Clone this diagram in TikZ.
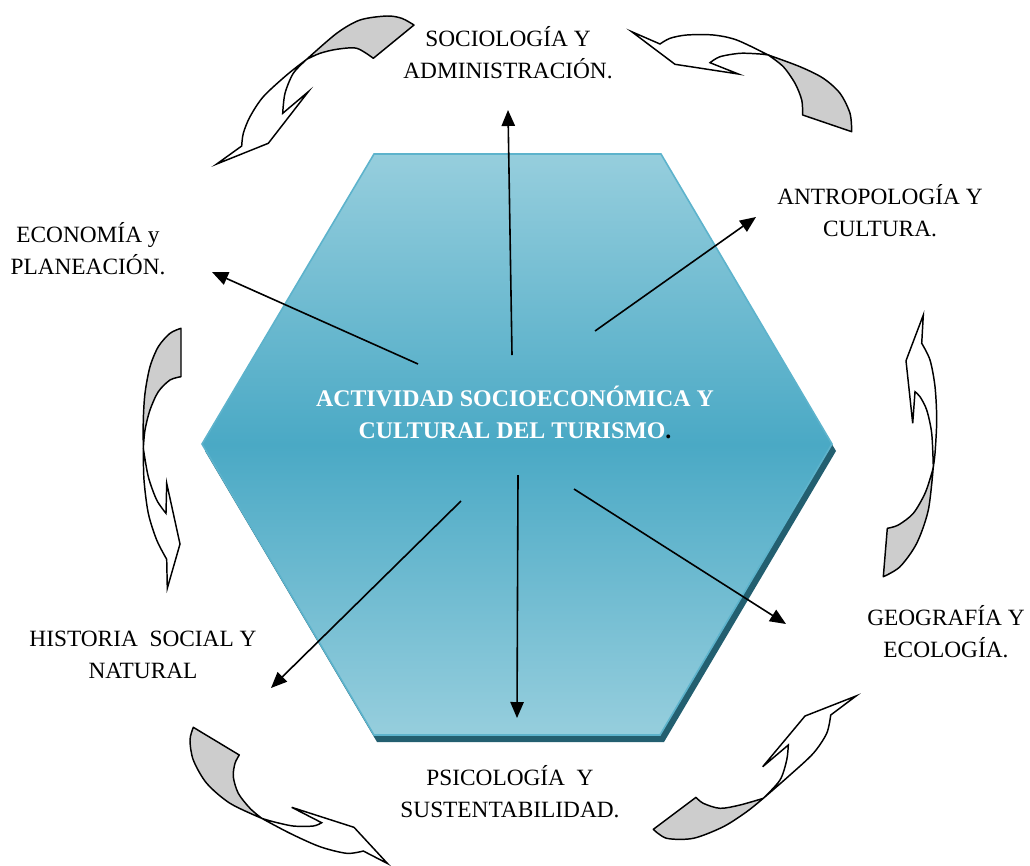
\documentclass[tikz,border=0pt]{standalone}
\usepackage{fontspec}
\setmainfont{Liberation Serif}
\usetikzlibrary{arrows.meta}
\definecolor{hexTop}{HTML}{96CEDD}
\definecolor{hexMid}{HTML}{4AA9C5}
\definecolor{hexEdge}{HTML}{5DB3CC}
\definecolor{hexShadow}{HTML}{235F70}
\definecolor{curlGray}{HTML}{CDCDCD}
\begin{document}
\begin{tikzpicture}[x=0.75pt,y=-0.75pt,
  lbl/.style={inner sep=0pt,align=center,font=\fontsize{17.5}{24}\selectfont},
  link/.style={line width=1.2pt,-{Triangle[length=12pt,width=10pt]}},
  curlback/.style={fill=curlGray,draw=black,line width=1.1pt,line join=round},
  curlfront/.style={fill=white,draw=black,line width=1.1pt,line join=miter}]
  \useasboundingbox (0,0) rectangle (1030,865);
  % hexagon
  \fill[hexShadow] (377,161) -- (664,161) -- (836,451) -- (664,742) -- (377,742) -- (205,451) -- cycle;
  \shade[top color=hexTop,bottom color=hexTop,middle color=hexMid]
    (374,154) -- (661,154) -- (832,444) -- (660,735) -- (374,735) -- (202,444) -- cycle;
  \draw[hexEdge,line width=1.2pt]
    (374,154) -- (661,154) -- (832,444) -- (660,735) -- (374,735) -- (202,444) -- cycle;
  \node[lbl,font=\fontsize{17.9}{24}\selectfont\bfseries,text=white] (core) at (515,412)
    {ACTIVIDAD SOCIOECONÓMICA Y\\CULTURAL DEL TURISMO\textcolor{black}{.}};
  % labels
  \node[lbl] (soc) at (508,53) {SOCIOLOGÍA Y\\ADMINISTRACIÓN.};
  \node[lbl] (antro) at (880,211) {ANTROPOLOGÍA Y\\CULTURA.};
  \node[lbl] (econ) at (88,249) {ECONOMÍA y\\PLANEACIÓN.};
  \node[lbl] (geo) at (946,632) {GEOGRAFÍA Y\\ECOLOGÍA.};
  \node[lbl] (hist) at (143,655) {HISTORIA\ \ SOCIAL Y\\NATURAL};
  \node[lbl] (psic) at (510,792) {PSICOLOGÍA\ \ Y\\SUSTENTABILIDAD.};
  % arrows from the centre
  \coordinate (soc-a) at (512,355);  \coordinate (soc-b) at (508,110);
  \coordinate (antro-a) at (595,331); \coordinate (antro-b) at (756,217);
  \coordinate (econ-a) at (418,364); \coordinate (econ-b) at (212,272);
  \coordinate (geo-a) at (574,489);  \coordinate (geo-b) at (786,624);
  \coordinate (psic-a) at (518,475); \coordinate (psic-b) at (517,718);
  \coordinate (hist-a) at (461,501); \coordinate (hist-b) at (271,688);
  \foreach \t in {soc,antro,econ,geo,psic,hist}
    \draw[link] (\t-a) -- (\t-b);
  % curled arrows
  \filldraw[curlback] plot[smooth] coordinates {(414,25) (401.7,18.3) (386.7,16) (360,20) (336.7,33.3) (306.7,59.3)}
    -- plot[smooth] coordinates {(306.7,59.3) (320,53.3) (336.7,49.3) (356.7,48.3) (373.3,58.3)} -- cycle;
  \filldraw[curlfront] plot[smooth] coordinates {(306.7,59.3) (286.7,75) (263.3,96.7) (250,116.7) (243.3,133.3) (241.7,146)}
    -- (216.7,164) -- (268.3,143.3) -- (308.3,91.7)
    -- plot[smooth] coordinates {(282.7,113.3) (285,93.3) (293.3,73.3) (306.7,59.3)} -- cycle;
  \filldraw[curlback] plot[smooth] coordinates {(851.7,131.7) (850,113.3) (840,93.3) (823.3,78.3) (800,66.7) (768.3,55)}
    -- plot[smooth] coordinates {(768.3,55) (783.3,66.7) (795,83.3) (801.7,100) (802.7,115)} -- cycle;
  \filldraw[curlfront] plot[smooth] coordinates {(768.3,55) (736.7,40) (713.3,35) (686.7,35) (670,38.3) (660,44)}
    -- (631.7,31.7) -- (675,64.3) -- (738.3,74)
    -- plot[smooth] coordinates {(710,62.7) (720,56.7) (740,53.3) (760,54) (768.3,55)} -- cycle;
  \filldraw[curlback] plot[smooth] coordinates {(181,328.3) (170,333.3) (158.3,346.7) (150,366.7) (145,393.3) (143.3,420) (143.3,448.3)}
    -- plot[smooth] coordinates {(143.3,448.3) (145,430) (150,410) (158.3,391.7) (170,380) (181,376.7)} -- cycle;
  \filldraw[curlfront] plot[smooth] coordinates {(143.3,448.3) (144,480) (148.3,513.3) (156.7,540) (166.7,559.3)}
    -- (167.3,588.3) -- (180,544) -- (166.7,483.3)
    -- plot[smooth] coordinates {(166,513.3) (156.7,500) (148.3,476.7) (143.3,448.3)} -- cycle;
  \filldraw[curlback] plot[smooth] coordinates {(883.3,576.7) (900,566.7) (916.7,543.3) (928.3,510) (933.3,466.7)}
    -- plot[smooth] coordinates {(933.3,466.7) (931.7,473.3) (925,493.3) (913.3,513.3) (898.3,525) (887.3,528.3)} -- cycle;
  \filldraw[curlfront] plot[smooth] coordinates {(933.3,466.7) (935,453.3) (936.7,420) (935,386.7) (930,360) (921.7,343.3)}
    -- (923.3,315) -- (906,360.7) -- (912.7,423.3)
    -- plot[smooth] coordinates {(915,391.7) (920,396.7) (926.7,410) (931.7,433.3) (933.3,466.7)} -- cycle;
  \filldraw[curlback] plot[smooth] coordinates {(193.3,727.3) (190,740) (193.3,760) (206.7,783.3) (230,803.3) (261.7,818.3)}
    -- plot[smooth] coordinates {(261.7,818.3) (250,808.3) (238.3,793.3) (233.3,776.7) (235,763.3) (239.3,755)} -- cycle;
  \filldraw[curlfront] plot[smooth] coordinates {(261.7,818.3) (290,833.3) (320,846.7) (346.7,853.3) (363.3,851)}
    -- (387.5,863.5) -- (354,827.3) -- (291.7,807.3)
    -- plot[smooth] coordinates {(321.7,822.7) (313.3,826) (293.3,826) (273.3,821.7) (261.7,818.3)} -- cycle;
  \filldraw[curlback] plot[smooth] coordinates {(653.3,829.3) (666.7,838.3) (693.3,838.3) (723.3,826.7) (746.7,811.7) (763.3,798.3)}
    -- plot[smooth] coordinates {(763.3,798.3) (740,805) (720,808.3) (703.3,803.3) (696,797.3)} -- cycle;
  \filldraw[curlfront] plot[smooth] coordinates {(763.3,798.3) (790,775) (813.3,753.3) (826.7,733.3) (830.7,715)}
    -- (856,696) -- (805,716) -- (762.7,766.7)
    -- plot[smooth] coordinates {(788.3,745) (786.7,760) (780,780) (763.3,798.3)} -- cycle;
\end{tikzpicture}
\end{document}
